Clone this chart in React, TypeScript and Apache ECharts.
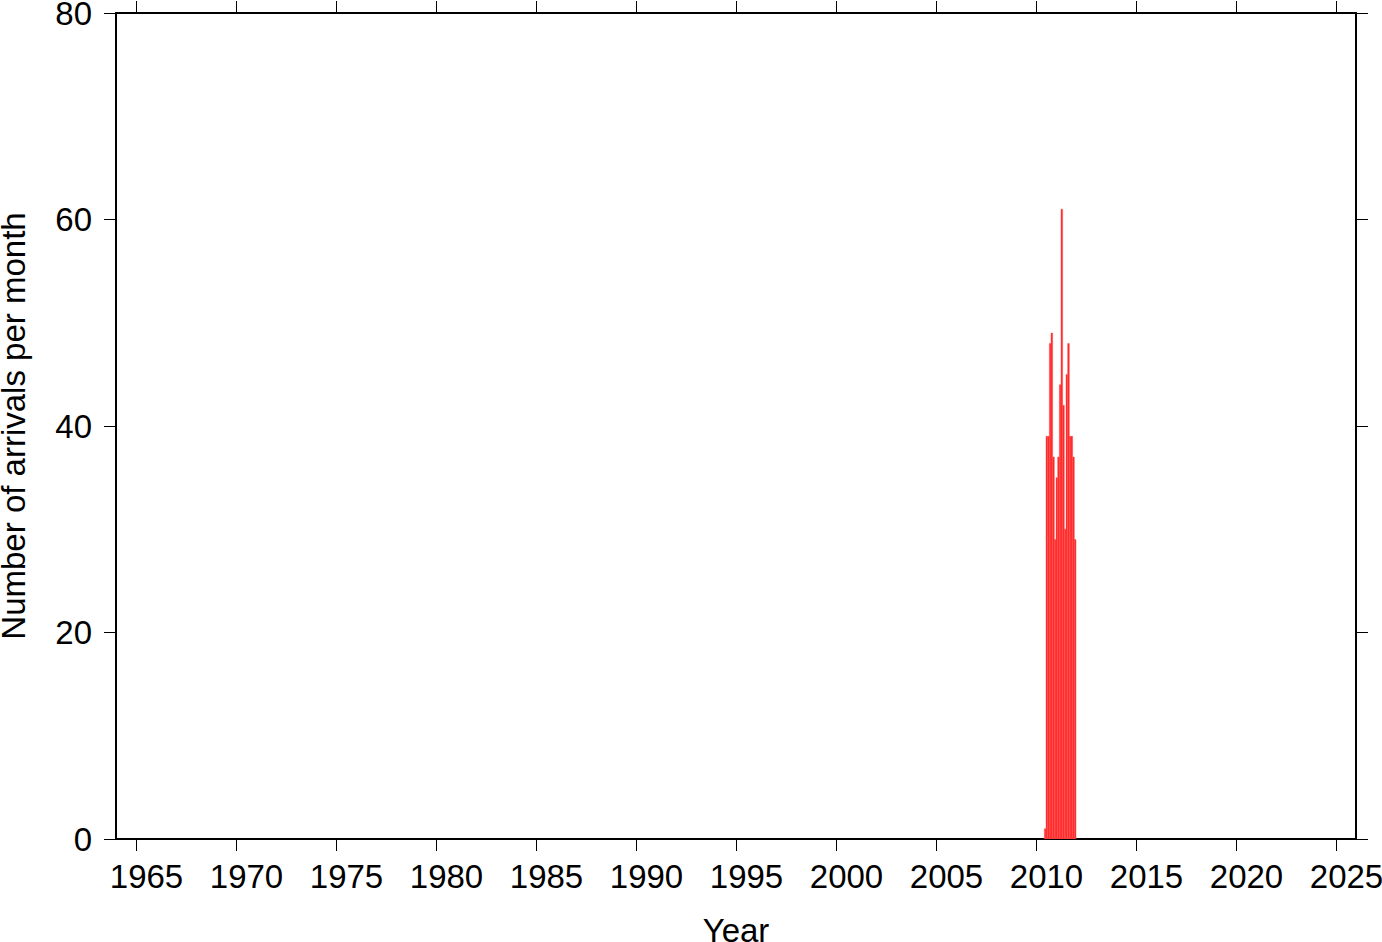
import React, { useEffect, useRef } from "react";
import * as echarts from "echarts";

// Monthly bins (year, month) and counts
const binYears = [2010, 2010, 2010, 2010, 2010, 2010, 2010, 2011, 2011, 2011, 2011, 2011, 2011, 2011, 2011, 2011, 2011, 2011, 2011];
const binMonths = [6, 7, 8, 9, 10, 11, 12, 1, 2, 3, 4, 5, 6, 7, 8, 9, 10, 11, 12];
const arrivals = [1, 39, 39, 48, 49, 37, 29, 35, 37, 44, 61, 42, 30, 45, 48, 39, 39, 37, 29];

const xTickYears = [1965, 1970, 1975, 1980, 1985, 1990, 1995, 2000, 2005, 2010, 2015, 2020, 2025];
const yTicks = [0, 20, 40, 60, 80];

const FONT = "Liberation Sans";
const FS = 33;

export default function App() {
  const ref = useRef<HTMLDivElement>(null);
  useEffect(() => {
    if (!ref.current) return;
    const chart = echarts.init(ref.current, null, { renderer: "svg" });
    const data = arrivals.map((v, i) => [binYears[i] + (binMonths[i] - 1) / 12, v]);
    const axisLine = { show: true, onZero: false, lineStyle: { color: "#000", width: 2 } };
    const tick = { show: true, inside: false, length: 12, lineStyle: { color: "#000", width: 1 } };
    chart.setOption({
      animation: false,
      backgroundColor: "#fff",
      grid: { left: 116, right: 26, top: 13, bottom: 103, containLabel: false, outerBoundsMode: "none" },
      xAxis: [
        {
          type: "value",
          position: "bottom",
          min: 1964,
          max: 2026,
          name: "Year",
          nameLocation: "middle",
          nameGap: 75,
          nameTextStyle: { fontFamily: FONT, fontSize: FS, color: "#000" },
          axisLine,
          axisTick: { ...tick, customValues: xTickYears },
          axisLabel: {
            customValues: xTickYears,
            fontFamily: FONT,
            fontSize: FS,
            color: "#000",
            margin: 21,
            padding: [0, 0, 0, 21],
            formatter: (v: number) => String(v),
          },
          splitLine: { show: false },
        },
        {
          type: "value",
          position: "top",
          min: 1964,
          max: 2026,
          axisLine,
          axisTick: { ...tick, customValues: xTickYears },
          axisLabel: { show: false },
          splitLine: { show: false },
        },
      ],
      yAxis: [
        {
          type: "value",
          position: "left",
          min: 0,
          max: 80,
          interval: 20,
          name: "Number of arrivals per month",
          nameLocation: "middle",
          nameGap: 86,
          nameRotate: 90,
          nameTextStyle: { fontFamily: FONT, fontSize: FS, color: "#000" },
          axisLine,
          axisTick: { ...tick, customValues: yTicks },
          axisLabel: {
            customValues: yTicks,
            fontFamily: FONT,
            fontSize: FS,
            color: "#000",
            margin: 24,
          },
          splitLine: { show: false },
        },
        {
          type: "value",
          position: "right",
          min: 0,
          max: 80,
          interval: 20,
          axisLine,
          axisTick: { ...tick, customValues: yTicks },
          axisLabel: { show: false },
          splitLine: { show: false },
        },
      ],
      series: [
        {
          type: "custom",
          xAxisIndex: 0,
          yAxisIndex: 0,
          data,
          clip: true,
          renderItem: (params: any, api: any) => {
            const x0 = api.value(0);
            const v = api.value(1);
            const p0 = api.coord([x0, v]);
            const p1 = api.coord([x0 + 1 / 12, 0]);
            return {
              type: "rect",
              shape: { x: p0[0], y: p0[1], width: p1[0] - p0[0], height: p1[1] - p0[1] },
              style: { fill: "#ff1f1f", stroke: "#ff5a5a", lineWidth: 0.5 },
            };
          },
        },
      ],
    });
    return () => chart.dispose();
  }, []);
  return <div ref={ref} style={{ width: 1382, height: 942, position: "absolute", left: 0, top: 0 }} />;
}
